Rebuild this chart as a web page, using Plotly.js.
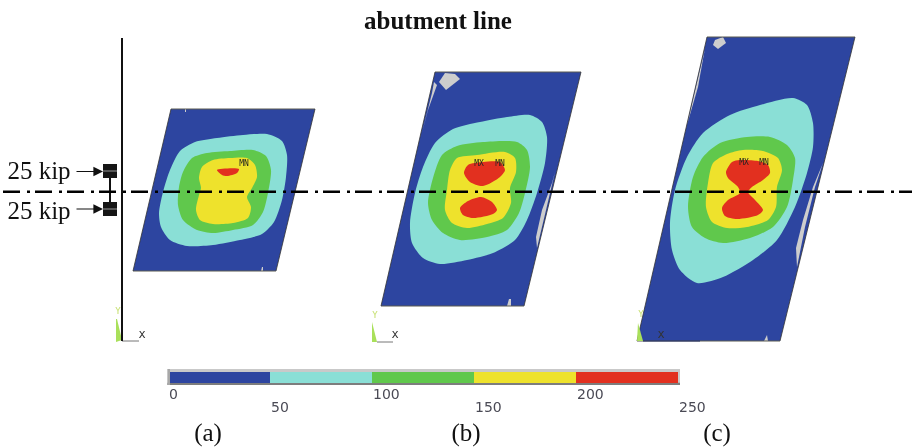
<!DOCTYPE html>
<html><head><meta charset="utf-8">
<script src="https://cdn.plot.ly/plotly-3.0.1.min.js"></script>
<style>html,body{margin:0;padding:0;background:#fff}#c{width:912px;height:448px;filter:blur(0.4px)}</style>
</head><body><div id="c"></div>
<script>
const NAVY='#2d45a0',CYAN='#8adfd6',GREEN='#60c84c',YELLOW='#eee22c',RED='#e2301f',GREY='#cdcdcd';

const plateA=[[171,109],[315,109],[276,271],[133,271],[171,109]];
const plateB=[[435,72],[581,72],[524,306],[381,306],[435,72]];
const plateC=[[707,37],[855,37],[780,341],[637,341],[707,37]];

const cyanA=[[267,134],[282,141],[287,155],[286,177],[282,200],[274,222],[262,234],[240,240],[213,245],[187,246],[170,240],[161,227],[159,213],[163,192],[170,170],[180,151],[195,142],[217,138],[243,135],[267,134]];
const greenA=[[253,150],[266,156],[271,170],[268,193],[263,212],[253,225],[233,230],[213,233],[197,230],[183,220],[178,205],[179,187],[183,172],[192,158],[207,153],[230,151],[253,150]];
const yellowA=[[247,158],[255,165],[257,177],[252,188],[247,197],[251,207],[248,218],[233,223],[213,224],[200,220],[196,210],[199,195],[201,188],[199,178],[202,167],[213,160],[230,158],[247,158]];
const redA=[[217,170],[239,169],[237,173],[227,176],[222,175],[217,170]];

const cyanB=[[530,115],[542,122],[547,137],[545,163],[537,193],[527,220],[515,240],[493,253],[467,260],[440,264],[423,258],[412,243],[410,223],[415,193],[423,167],[435,143],[453,129],[480,122],[507,117],[530,115]];
const greenB=[[517,142],[527,150],[530,167],[525,193],[519,213],[507,230],[487,237],[460,240],[443,233],[432,220],[428,203],[433,178],[442,155],[457,146],[483,142],[517,142]];
const yellowB=[[505,152],[515,158],[516,172],[510,188],[511,203],[503,218],[487,224],[467,228],[452,223],[445,210],[447,190],[450,170],[457,158],[477,155],[505,152]];
const redB1=[[500,162],[505,170],[500,177],[483,186],[470,182],[464,173],[468,165],[483,162],[500,162]];
const redB2=[[481,197],[492,202],[497,210],[493,214],[473,218],[463,215],[460,208],[468,201],[481,197]];

const cyanC=[[793,98],[807,105],[813,123],[813,147],[807,173],[795,207],[777,240],[753,260],[723,277],[697,283],[680,270],[672,250],[670,223],[675,190],[687,157],[703,133],[730,115],[760,105],[793,98]];
const greenC=[[770,137],[787,145],[795,158],[793,180],[787,207],[773,227],[750,238],[723,243],[705,238],[692,227],[688,207],[693,177],[703,157],[720,143],[747,137],[770,137]];
const yellowC=[[763,151],[778,158],[782,170],[777,187],[776,207],[768,220],[747,227],[727,228],[712,222],[706,207],[708,183],[713,163],[727,154],[743,150],[763,151]];
const redC=[[758,161],[768,165],[770,173],[763,180],[752,187],[748,192],[755,200],[763,210],[758,215],[737,219],[725,216],[722,208],[728,200],[740,193],[738,187],[728,178],[726,172],[732,162],[740,160],[758,161]];

const greyPatches=[
 [[445,73],[455,74],[460,79],[446,90],[439,82],[445,73]],
 [[434,82],[437,85],[428,110],[422,133],[432,93],[434,82]],
 [[555,172],[550,193],[543,220],[537,248],[536,237],[542,210],[552,183],[555,172]],
 [[509,299],[511,299],[511,306],[507,306],[509,299]],
 [[715,40],[723,37],[726,43],[718,49],[713,45],[715,40]],
 [[705,48],[698,87],[687,125],[693,100],[702,63],[705,48]],
 [[823,163],[815,187],[805,227],[797,267],[796,248],[803,220],[813,187],[823,163]],
 [[767,335],[768,341],[764,341],[767,335]],
 [[185,109],[186,109],[186,112],[185,112],[185,109]],
 [[262,267],[263,267],[263,271],[261,271],[262,267]]
];
const triadSlivers=[
 [[116,319],[117,319],[122,340],[116,342],[116,319]],
 [[372,322],[377,342],[372,342],[372,322]],
 [[638,323],[643,341],[637,341],[638,323]]
];
const triadLines=[[[122,341],[139,341]],[[377,342],[393,342]],[[643,341],[700,341]]];

const scaleValues=[25,75,125,175,225];
const scaleWidths=[50,50,50,50,50];
const scaleColours=[NAVY,CYAN,GREEN,YELLOW,RED];
const scaleTicks=[0,50,100,150,200,250];
const scaleTickY=[394,407,394,407,394,407];

const wheelY=[171,209];
const arrowY=[171.5,209];
const loadLabels=['25 kip','25 kip'];
const loadLabelY=[173,213];
const panelLabels=['(a)','(b)','(c)'];
const panelLabelX=[208,466,717];
const stressLabels=['MN','MX','MN','MX','MN'];
const stressX=[244,479,500,744,764];
const stressY=[164,164,164,163,163];
const xLabels=['x','x','x'];
const xLabelX=[142,395,661];
const xLabelY=[335,335,335];
const yLabels=['Y','Y','Y'];
const yLabelX=[118,375,641];
const yLabelY=[312,316,315];

function poly(p,color,spline){
  return {x:p.map(d=>d[0]),y:p.map(d=>d[1]),mode:'lines',fill:'toself',fillcolor:color,
    line:{width:0,color:color,shape:spline?'spline':'linear',smoothing:0.75},hoverinfo:'skip',showlegend:false};
}
function stroke(p,color,width,dash){
  return {x:p.map(d=>d[0]),y:p.map(d=>d[1]),mode:'lines',line:{width:width,color:color,dash:dash||'solid'},hoverinfo:'skip',showlegend:false};
}
function text(x,y,t,size,color,family,pos,weight){
  return {x:x,y:y,text:t,mode:'text',textposition:pos||'middle center',
    textfont:{size:size,color:color,family:family,weight:weight||'normal'},hoverinfo:'skip',showlegend:false};
}
const traces=[];
[[plateA,[cyanA,greenA,yellowA,redA]],[plateB,[cyanB,greenB,yellowB,redB1,redB2]],[plateC,[cyanC,greenC,yellowC,redC]]].forEach(([plate,bands])=>{
  traces.push(poly(plate,NAVY,false));
  bands.forEach((b,i)=>{
    const col=[CYAN,GREEN,YELLOW,RED,RED][i];
    traces.push(poly(b,col,true));
  });
});
greyPatches.forEach(p=>traces.push(poly(p,GREY,false)));
[plateA,plateB,plateC].forEach(p=>{
  traces.push(stroke(p.slice(0,2),'#5a5a50',1));
  traces.push(stroke(p.slice(1,3),'#333',0.8));
  traces.push(stroke(p.slice(2,4),'#5a5a50',1));
  traces.push(stroke(p.slice(3,5),'#333',0.8));
});
triadSlivers.forEach(p=>traces.push(poly(p,'#a9e05a',false)));
triadLines.forEach((p,i)=>traces.push(stroke(p,i==2?'#24306a':'#777',1)));
traces.push(text(xLabelX,xLabelY,xLabels,12,'#333','DejaVu Sans Mono'));
traces.push(text(yLabelX,yLabelY,yLabels,9,'#c6e070','DejaVu Sans Mono'));
traces.push(text(stressX,stressY,stressLabels,8,'#222','DejaVu Sans Mono'));

traces.push(stroke([[122,38],[122,341]],'#111',2));
traces.push(stroke([[110,178],[110,202]],'#111',2));
wheelY.forEach(y=>{
  const top=y-7,bot=y+7;
  traces.push(poly([[103,top],[117,top],[117,bot],[103,bot],[103,top]],'#161616',false));
  traces.push(stroke([[103,y],[117,y]],'#bbb',0.8));
});
traces.push(stroke([[3,191.7],[912,191.7]],'#000',2.6,'17px,7px,3px,5px'));
traces.push(text([39,39],loadLabelY,loadLabels,25,'#111','Liberation Serif'));
traces.push(text([438],[23],['abutment line'],25,'#111','Liberation Serif','middle center','bold'));
traces.push(text(panelLabelX,[435,435,435],panelLabels,25,'#111','Liberation Serif'));

traces.push({type:'bar',x:scaleValues,y:[1,1,1,1,1],width:scaleWidths,marker:{color:scaleColours,line:{width:0}},
  xaxis:'x2',yaxis:'y2',hoverinfo:'skip',showlegend:false});

const ax={visible:false,fixedrange:true};
const py=v=>1-v/448, px=v=>v/912;
const layout={
  width:912,height:448,margin:{l:0,r:0,t:0,b:0},paper_bgcolor:'#fff',plot_bgcolor:'rgba(0,0,0,0)',showlegend:false,
  xaxis:{...ax,range:[0,912],domain:[0,1],anchor:'y'},
  yaxis:{...ax,range:[448,0],domain:[0,1],anchor:'x'},
  xaxis2:{...ax,range:[0,250],domain:[px(168),px(678)],anchor:'y2'},
  yaxis2:{...ax,range:[0,1],domain:[py(383),py(372)],anchor:'x2'},
  bargap:0,
  shapes:[
    {type:'rect',xref:'paper',yref:'paper',x0:px(167.5),x1:px(680),y0:py(385),y1:py(369),line:{width:0},fillcolor:'#c9c9c9',layer:'below'},
    {type:'rect',xref:'paper',yref:'paper',x0:px(167.5),x1:px(680),y0:py(385),y1:py(382.7),line:{width:0},fillcolor:'#7d7d7d',layer:'below'},
    {type:'rect',xref:'paper',yref:'paper',x0:px(167.5),x1:px(170),y0:py(385),y1:py(369),line:{width:0},fillcolor:'#a8a8a8',layer:'above'}
  ],
  annotations:arrowY.map(y=>({x:103,y:y,ax:75,ay:y,xref:'x',yref:'y',axref:'x',ayref:'y',text:'',showarrow:true,
    arrowhead:2,arrowsize:1.6,arrowwidth:1.2,arrowcolor:'#111'})).concat(
    scaleTicks.map((t,i)=>({x:t,y:scaleTickY[i],xref:'x2',yref:'y',text:String(t),showarrow:false,xanchor:'left',yanchor:'middle',
      xshift:-1,font:{size:14,color:'#4a4a55',family:'DejaVu Sans'}})))
};
Plotly.newPlot('c',traces,layout,{displayModeBar:false,staticPlot:true});
</script></body></html>
